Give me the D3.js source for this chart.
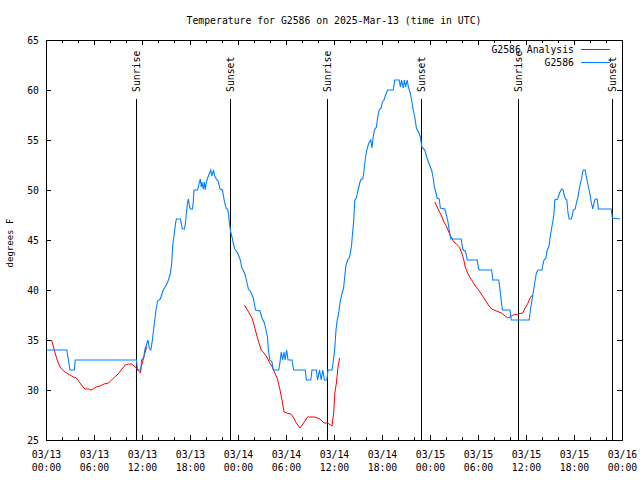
<!DOCTYPE html>
<html><head><meta charset="utf-8">
<script src="https://cdn.jsdelivr.net/npm/d3@7"></script>
<style>
body{margin:0;background:#fff}
svg{display:block}
text{font-family:"DejaVu Sans Mono","Liberation Mono",monospace;font-size:9.8px;fill:#000}
</style>
</head><body>
<svg id="chart" width="640" height="480"></svg>
<script>
// ---------- data ----------
const chartTitle = "Temperature for G2586 on 2025-Mar-13 (time in UTC)";
const yLabel = "degrees F";
const seriesNames = ["G2586 Analysis", "G2586"];
const yTickValues = [25, 30, 35, 40, 45, 50, 55, 60, 65];
const sunriseHours = [11.29, 35.16, 59.04];
const sunsetHours = [22.94, 46.87, 70.79];

// observed station temperature (hours since 2025-03-13 00:00 UTC)
const obsHours = [
 0,2.6,2.8,3.0,3.55,3.65,11.3,11.45,11.83,11.95,12.2,12.35,12.55,12.75,12.9,13.1,13.25,13.4,13.55,13.75,
 13.95,14.3,14.45,14.65,15.05,15.3,15.5,15.7,15.85,16.05,16.2,16.3,16.8,16.95,17.05,17.3,17.45,17.55,17.68,17.8,
 17.95,18.05,18.3,18.4,18.5,18.95,19.15,19.3,19.4,19.5,19.65,19.8,19.9,20.05,20.25,20.45,20.6,20.72,20.83,20.95,
 21.08,21.3,21.55,21.75,22.05,22.2,22.35,22.5,22.7,22.8,22.93,23.08,23.25,23.4,23.58,23.8,24.0,24.25,24.5,24.7,
 24.9,25.1,25.3,25.6,25.9,26.2,26.75,27.0,27.3,27.5,27.68,27.8,27.98,28.25,28.4,29.1,29.25,29.4,29.58,29.75,
 29.9,30.08,30.25,30.75,30.95,32.4,32.55,33.1,33.25,33.8,33.95,34.2,34.4,34.6,34.8,35.1,35.25,35.75,35.9,36.08,
 36.25,36.4,36.55,36.75,36.95,37.2,37.35,37.5,37.7,37.9,38.05,38.2,38.3,38.45,38.6,38.8,38.95,39.1,39.25,39.4,
 39.6,39.7,39.83,39.95,40.1,40.35,40.6,40.75,40.9,41.05,41.3,41.45,41.65,41.9,42.05,42.25,42.45,42.7,43.4,43.6,
 44.15,44.3,44.45,44.65,44.8,44.95,45.15,45.3,45.5,45.7,45.9,46.1,46.3,46.55,46.8,46.98,47.35,47.55,47.8,48.0,
 48.2,48.4,48.55,48.75,48.9,49.15,49.3,49.85,50.05,50.25,50.4,50.6,51.9,52.0,52.15,52.4,52.55,52.65,53.9,54.05,
 54.15,55.7,55.85,56.6,56.75,56.9,57.05,58.0,58.15,60.4,60.55,60.75,60.95,61.15,61.3,61.5,62.0,62.1,62.25,62.5,
 62.65,62.85,63.0,63.2,63.35,63.5,63.6,63.95,64.2,64.45,64.65,64.8,64.95,65.1,65.25,65.4,65.65,65.8,65.9,66.15,
 66.3,66.5,66.7,66.95,67.15,67.4,67.55,67.75,67.95,68.15,68.35,68.5,68.65,68.9,69.05,70.65,70.8,71.75
];
const obsTemps = [
 34,34,33,32,32,33,33,32,32,33,33.2,34,34.5,35,34.2,34,34.7,35.7,36.7,38,
 38.9,39.1,39.5,40,40.5,41,41.5,42.5,44.5,45.7,46.7,47.1,47.1,46.5,46.1,46.1,46.8,47.7,48.7,49.1,
 48.3,48.1,48.1,48.7,50,50,50.7,51.1,50.3,50.8,50.1,50.8,50,50.8,51.3,51.7,52,51.4,51.7,52,
 51.4,51.1,50.8,50.1,50,49.3,48.7,48.2,48.1,47.7,46.7,45.8,45.3,44.7,44.1,43.9,43.6,43.1,42.2,41.9,
 41.5,40.8,40.1,39.8,39.2,38,37.9,37.2,36.7,36,35.3,34,33,32.8,32,32,32.8,33.8,33,33.8,
 33,34,33,33,32,32,31,31,32,32,31,32,31,32,31,31,32,32,32.8,34,
 36,37,37.5,38.7,39.5,40.2,41.4,42.5,43,43.2,43.7,44.5,45.5,46.8,49,49.2,49.8,50.3,50.8,51.1,
 51.1,51.6,52.5,53.3,54,54.7,55,54.2,55.3,56,56.3,57.2,58,58.2,58.8,59,59.5,60,60,61,
 61,60.3,61,60.2,61,60.3,61,60.3,59.8,59,58,57.3,56.2,55.8,55.3,54.3,54,53.4,52.8,52.4,
 52,51.2,50.3,49.7,49.2,49.1,48.2,48.1,47.5,46.8,46,45.1,45.1,44.5,44,43.9,43.5,43,43,42.2,
 42,42,41,41,40,39,38,38,37,37,38,39,40,41,41.7,42,42,42.5,43,43.2,
 44,44.3,45.2,46.2,46.8,47.7,49,49.1,49.7,50.1,50,49.4,49.1,49,47.7,47.1,47.1,47.5,48,48.1,
 48.7,49.3,50.3,51.2,52,52,51.3,50.5,49.8,48.8,48.1,48.7,49.1,49.1,48.1,48.1,47.2,47.1
];

// analysis temperature (null marks a gap)
const anaHours = [
 0.7,0.8,1.1,1.4,1.75,2.2,2.6,3.0,3.4,3.8,4.25,4.6,4.9,5.3,5.6,5.9,6.3,6.75,7.25,7.8,
 8.2,8.6,9.0,9.5,9.9,10.3,10.7,11.0,11.3,11.6,11.8,11.9,12.2,12.4,12.6,
 null,
 24.8,25.1,25.4,25.75,25.9,26.1,26.4,26.7,26.9,27.25,27.6,27.9,28.3,28.6,28.9,29.2,29.5,29.75,30.1,30.6,
 30.9,31.3,31.75,32.2,32.7,33.6,34.25,34.75,35.2,35.75,35.96,36.1,36.3,36.5,36.7,
 null,
 48.6,48.9,49.2,49.5,49.75,50.1,50.4,50.7,51.0,51.3,51.7,51.96,52.2,52.4,52.7,52.9,53.1,53.2,53.6,54.25,
 54.9,55.3,55.7,56.3,56.96,57.4,57.7,58.0,58.4,59.0,59.6,59.9,60.2,60.5,60.8
];
const anaTemps = [
 35,34.7,33.8,33,32.3,31.9,31.7,31.5,31.3,31.2,30.7,30.3,30.1,30.1,30,30.1,30.3,30.4,30.6,30.7,
 31,31.3,31.6,32.1,32.5,32.6,32.6,32.4,32.2,31.9,31.7,32.3,33.2,33.8,34.3,
 null,
 38.5,38.1,37.7,37.2,36.8,36.2,35.3,34.5,34,33.7,33.3,32.8,32.3,31.7,31.2,30.2,29,27.8,27.7,27.6,
 27.3,26.7,26.2,26.7,27.3,27.3,27.1,26.7,26.7,26.4,27.7,29.7,30.7,32.3,33.2,
 null,
 48.8,48.3,47.8,47.3,46.8,46.3,45.7,45.2,44.8,44.6,44.3,43.7,43.1,42.3,41.7,41.4,41.1,41,40.5,39.8,
 39,38.5,38.1,37.9,37.7,37.4,37.2,37.3,37.5,37.6,37.7,38.2,38.6,39.2,39.5
];

// ---------- drawing ----------
const start = Date.UTC(2025, 2, 13);
const toDate = h => new Date(start + h * 3600e3);
const M = {left: 46, right: 622, top: 40, bottom: 440};
const svg = d3.select("#chart");

const x = d3.scaleUtc().domain([toDate(0), toDate(72)]).range([M.left, M.right]);
const y = d3.scaleLinear().domain([25, 65]).range([M.bottom, M.top]);

const majorT = d3.utcHour.every(6).range(toDate(0), toDate(72.01));
const minorT = d3.utcHour.every(2).range(toDate(0), toDate(72.01));

// minor ticks
svg.append("g").attr("transform", `translate(0,${M.bottom})`)
  .call(d3.axisBottom(x).tickValues(minorT).tickSize(-3).tickFormat(""))
  .call(g => g.select(".domain").remove())
  .attr("shape-rendering", "crispEdges");
svg.append("g").attr("transform", `translate(0,${M.top})`)
  .call(d3.axisTop(x).tickValues(minorT).tickSize(-3).tickFormat(""))
  .call(g => g.select(".domain").remove())
  .attr("shape-rendering", "crispEdges");

// major x ticks + labels
const fmtD = d3.utcFormat("%m/%d"), fmtT = d3.utcFormat("%H:%M");
const xb = svg.append("g").attr("transform", `translate(0,${M.bottom})`)
  .call(d3.axisBottom(x).tickValues(majorT).tickSize(-5).tickFormat(""))
  .call(g => g.select(".domain").remove())
  .attr("shape-rendering", "crispEdges");
xb.selectAll(".tick text").remove();
xb.selectAll(".tick").append("text").attr("y", 18).attr("text-anchor", "middle")
  .text(d => fmtD(d));
xb.selectAll(".tick").append("text").attr("y", 31).attr("text-anchor", "middle")
  .text(d => fmtT(d));
svg.append("g").attr("transform", `translate(0,${M.top})`)
  .call(d3.axisTop(x).tickValues(majorT).tickSize(-5).tickFormat(""))
  .call(g => g.select(".domain").remove())
  .attr("shape-rendering", "crispEdges");

// y ticks
const yl = svg.append("g").attr("transform", `translate(${M.left},0)`)
  .call(d3.axisLeft(y).tickValues(yTickValues).tickSize(-5).tickPadding(7))
  .call(g => g.select(".domain").remove())
  .attr("shape-rendering", "crispEdges");
yl.selectAll(".tick text").attr("dy", "0.36em").attr("x", -7);
svg.append("g").attr("transform", `translate(${M.right},0)`)
  .call(d3.axisRight(y).tickValues(yTickValues).tickSize(-5).tickFormat(""))
  .call(g => g.select(".domain").remove())
  .attr("shape-rendering", "crispEdges");
svg.selectAll(".tick line").attr("stroke", "#000");
svg.selectAll("g").attr("font-family", null).attr("font-size", null);

// sunrise / sunset lines
const events = sunriseHours.map(h => ({h, name: "Sunrise"}))
  .concat(sunsetHours.map(h => ({h, name: "Sunset"})));
const ev = svg.append("g");
events.forEach(e => {
  const px = Math.round(x(toDate(e.h))) + 0.5;
  ev.append("line").attr("x1", px).attr("x2", px).attr("y1", 99).attr("y2", M.bottom)
    .attr("stroke", "#000").attr("stroke-width", 1).attr("shape-rendering", "crispEdges");
  ev.append("text").attr("transform", `translate(${px + 3.5},92) rotate(-90)`)
    .attr("text-anchor", "start").text(e.name);
});

// lines
const line = d3.line()
  .defined(d => d[0] !== null && d[1] !== null)
  .x(d => x(toDate(d[0]))).y(d => y(d[1]));
const anaData = anaHours.map((h, i) => [h, anaTemps[i]]);
const obsData = obsHours.map((h, i) => [h, obsTemps[i]]);
svg.append("path").datum(anaData).attr("d", line)
  .attr("fill", "none").attr("stroke", "#ff0000").attr("stroke-width", 1);
svg.append("path").datum(obsData).attr("d", line)
  .attr("fill", "none").attr("stroke", "#0080ff").attr("stroke-width", 1.1);

// frame
svg.append("rect").attr("x", M.left + 0.5).attr("y", M.top + 0.5)
  .attr("width", M.right - M.left).attr("height", M.bottom - M.top)
  .attr("fill", "none").attr("stroke", "#000").attr("shape-rendering", "crispEdges");

// title & y label
svg.append("text").attr("x", 334).attr("y", 23.5).attr("text-anchor", "middle").text(chartTitle);
svg.append("text").attr("transform", "translate(12.5,243) rotate(-90)")
  .attr("text-anchor", "middle").style("font-size", "9px").text(yLabel);

// legend
const legColors = ["#ff0000", "#0080ff"];
seriesNames.forEach((n, i) => {
  const ly = 49.5 + i * 13;
  svg.append("text").attr("x", 574).attr("y", ly + 3.5).attr("text-anchor", "end").text(n);
  svg.append("line").attr("x1", 581).attr("x2", 610).attr("y1", ly).attr("y2", ly)
    .attr("stroke", legColors[i]).attr("stroke-width", 1).attr("shape-rendering", "crispEdges");
});
</script>
</body></html>
